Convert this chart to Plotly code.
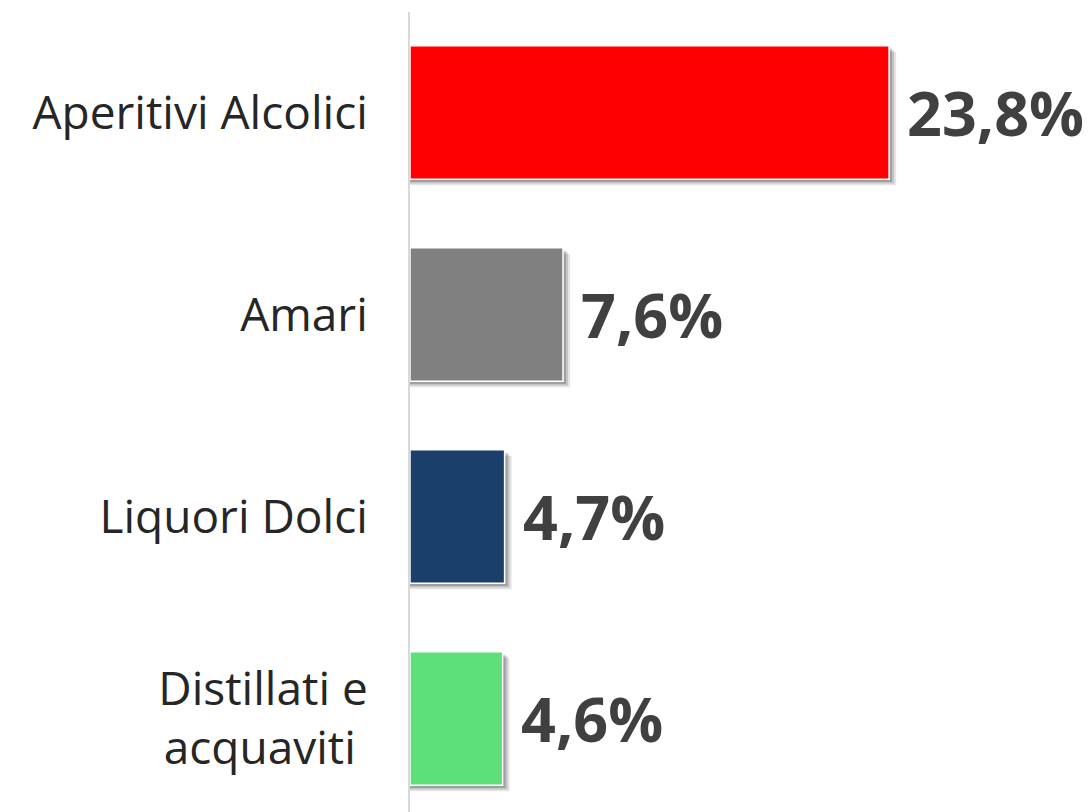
import plotly.graph_objects as go

categories = ["Aperitivi Alcolici", "Amari", "Liquori Dolci", "Distillati e<br>acquaviti\u00a0"]
values = [23.8, 7.6, 4.7, 4.6]
labels = ["23,8%", "7,6%", "4,7%", "4,6%"]
colors = ["#FF0000", "#808080", "#1B3F6B", "#5DE07A"]

fig = go.Figure()

# soft drop shadow layers
for dx, dy, alpha in [(0.35, 0.03, 0.10), (0.25, 0.022, 0.14), (0.15, 0.014, 0.18)]:
    fig.add_trace(go.Bar(
        y=categories, x=[v + dx for v in values], orientation="h",
        width=0.66, offset=-0.33 + dy,
        marker=dict(color=f"rgba(0,0,0,{alpha})", line=dict(width=0)),
        hoverinfo="skip", showlegend=False,
    ))

fig.add_trace(go.Bar(
    y=categories, x=values, orientation="h",
    width=0.66, offset=-0.33,
    marker=dict(color=colors, line=dict(color="white", width=1.5)),
    showlegend=False,
))

for c, v, t in zip(categories, values, labels):
    fig.add_annotation(x=v, y=c, text=f"<b>{t}</b>", showarrow=False,
                       xanchor="left", yanchor="middle", xshift=16,
                       font=dict(family="Open Sans", size=61, color="#404040"))

fig.update_layout(
    width=1092, height=812,
    margin=dict(l=410, r=0, t=12, b=0),
    paper_bgcolor="white", plot_bgcolor="white",
    barmode="overlay",
    xaxis=dict(range=[0, 33.88], visible=False),
    yaxis=dict(categoryorder="array", categoryarray=categories,
               range=[3.463, -0.4975], showline=True, linecolor="#D9D9D9",
               linewidth=2, showgrid=False, zeroline=False, ticks="",
               ticklabelstandoff=31,
               tickfont=dict(family="Open Sans", size=46, color="#262626")),
)

fig.write_html("out.html", config={"displayModeBar": False})

with open("out.html", "r", encoding="utf-8") as f:
    html = f.read()
html = html.replace("<head>", "<head><style>html,body{margin:0;padding:0;overflow:hidden;}</style>", 1)
with open("out.html", "w", encoding="utf-8") as f:
    f.write(html)
